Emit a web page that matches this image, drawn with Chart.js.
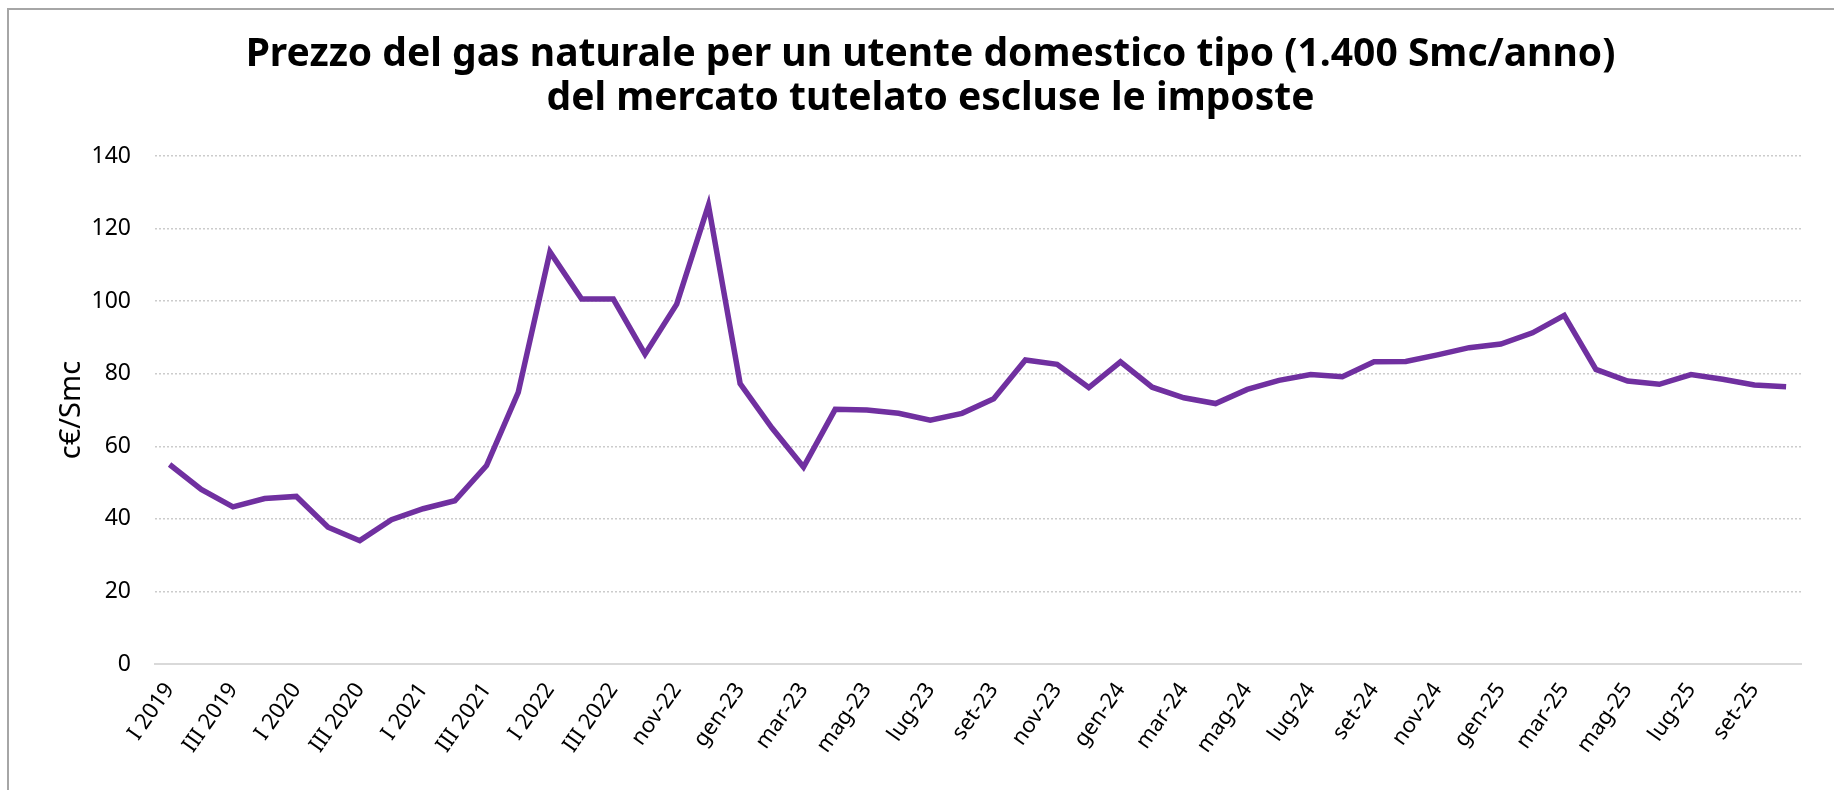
<!DOCTYPE html>
<html>
<head>
<meta charset="utf-8">
<script src="https://cdn.jsdelivr.net/npm/chart.js@4.4.1/dist/chart.umd.min.js"></script>
<style>
  html, body { margin: 0; padding: 0; background: #fff; }
  #cornice { position: absolute; left: 7px; top: 8px; width: 1840px; height: 800px;
    border-left: 2px solid #a6a6a6; border-top: 2px solid #a6a6a6; }
  #box { position: absolute; left: 0; top: 0; width: 1834px; height: 790px; }
</style>
</head>
<body>
<div id="cornice"></div>
<div id="box"><canvas id="grafico"></canvas></div>
<script>
const etichette = ['I 2019','II 2019','III 2019','IV 2019','I 2020','II 2020','III 2020','IV 2020',
  'I 2021','II 2021','III 2021','IV 2021','I 2022','II 2022','III 2022',
  'ott-22','nov-22','dic-22',
  'gen-23','feb-23','mar-23','apr-23','mag-23','giu-23','lug-23','ago-23','set-23','ott-23','nov-23','dic-23',
  'gen-24','feb-24','mar-24','apr-24','mag-24','giu-24','lug-24','ago-24','set-24','ott-24','nov-24','dic-24',
  'gen-25','feb-25','mar-25','apr-25','mag-25','giu-25','lug-25','ago-25','set-25','ott-25']

const prezzi = [55.0,48.1,43.3,45.6,46.2,37.7,34.0,39.8,42.8,45.0,
  54.7,74.9,113.6,100.6,100.6,85.4,99.2,126.5,77.3,65.1,
  54.3,70.2,70.0,69.1,67.2,69.1,73.1,83.8,82.6,76.2,
  83.3,76.3,73.4,71.8,75.7,78.2,79.8,79.2,83.3,83.4,
  85.2,87.2,88.2,91.3,96.1,81.2,78.0,77.1,79.8,78.5,
  76.9,76.4]

const tickY = [0, 20, 40, 60, 80, 100, 120, 140]

const titolo = ['Prezzo del gas naturale per un utente domestico tipo (1.400 Smc/anno)',
  'del mercato tutelato escluse le imposte']

const font = '"Noto Sans", "DejaVu Sans", sans-serif'
const ctx = document.getElementById('grafico')

// padding sinistro 60 + asse y 95 = area grafico da x=155, titolo centrato come nell'originale
let graficoLinea = new Chart(ctx, {
  type: 'line',
  data: {
    datasets: [{
      label: 'c€/Smc',
      data: prezzi.map((v, i) => ({ x: i, y: v })),
      borderColor: '#7030A0',
      borderWidth: 5.5,
      pointRadius: 0,
      tension: 0,
      fill: false
    }]
  },
  options: {
    responsive: true,
    maintainAspectRatio: false,
    animation: false,
    layout: { padding: { left: 60, right: 33, top: 0, bottom: 0 } },
    plugins: {
      legend: { display: false },
      tooltip: { enabled: false },
      title: {
        display: true,
        text: titolo,
        color: '#000',
        font: { family: font, size: 39, weight: 'bold', lineHeight: 1.13 },
        padding: { top: 33, bottom: 35 }
      }
    },
    scales: {
      x: {
        type: 'linear',
        min: -0.46,
        max: 51.47,
        afterBuildTicks: (scale) => {
          scale.ticks = etichette.map((e, i) => ({ value: i })).filter(t => t.value % 2 === 0)
        },
        afterFit: (scale) => { scale.height = 126 },
        grid: { display: false, drawTicks: false },
        border: { display: true, color: '#d9d9d9', width: 2 },
        ticks: {
          autoSkip: false,
          maxRotation: 55,
          minRotation: 55,
          padding: 14,
          color: '#000',
          font: { family: font, size: 22 },
          callback: (v) => etichette[v]
        }
      },
      y: {
        min: 0,
        max: 140,
        afterBuildTicks: (scale) => {
          scale.ticks = tickY.map(v => ({ value: v }))
        },
        afterFit: (scale) => { scale.width = 95 },
        grid: {
          drawTicks: false,
          lineWidth: 1.5,
          color: (c) => c.tick && c.tick.value === 0 ? 'rgba(0,0,0,0)' : '#cccccc'
        },
        border: { display: false, dash: [2, 2] },
        ticks: {
          padding: 24,
          color: '#000',
          font: { family: font, size: 23 }
        },
        title: {
          display: true,
          text: 'c€/Smc',
          color: '#000',
          font: { family: font, size: 29 },
          padding: { top: -6 }
        }
      }
    }
  }
})
</script>
</body>
</html>
